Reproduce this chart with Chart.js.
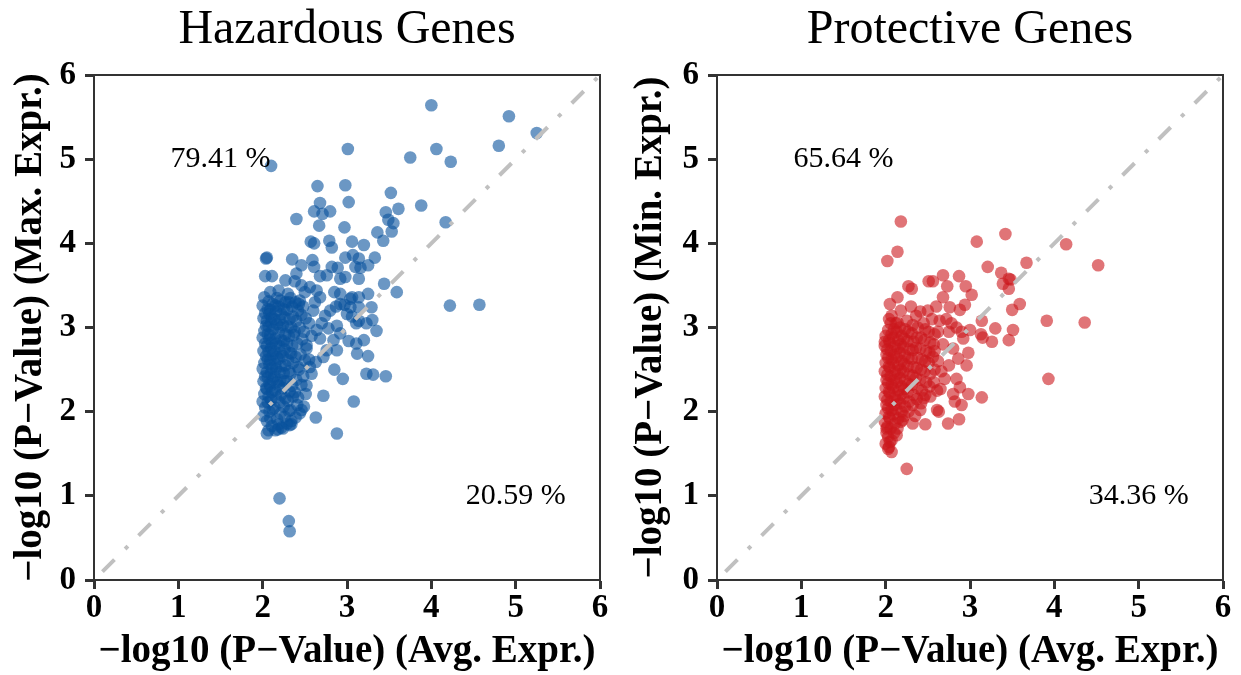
<!DOCTYPE html>
<html><head><meta charset="utf-8">
<script src="https://cdn.jsdelivr.net/npm/chart.js@4.4.1/dist/chart.umd.min.js"></script>
<style>
html,body{margin:0;padding:0;background:#fff;}
#wrap{position:relative;width:1241px;height:675px;overflow:hidden;}
canvas{position:absolute;top:0;}
</style></head><body>
<div id="wrap"><canvas id="c1" width="620" height="675" style="left:0"></canvas><canvas id="c2" width="621" height="675" style="left:620px"></canvas></div>
<script>
// ---- data (x = -log10 P (Avg. Expr.), y = -log10 P (Max./Min. Expr.)) ----
const chartTitles = ["Hazardous Genes", "Protective Genes"];
const xAxisLabel = "\u2212log10 (P\u2212Value) (Avg. Expr.)";
const yAxisLabels = ["\u2212log10 (P\u2212Value) (Max. Expr.)", "\u2212log10 (P\u2212Value) (Min. Expr.)"];
const axisRange = [0, 6];
const upperPercents = ["79.41 %", "65.64 %"];
const lowerPercents = ["20.59 %", "34.36 %"];
const diagonalLine = [[0.1, 0.1], [6.0, 6.0]];

const hazardousPoints = [
 // sparse upper points
 [4.00,5.64],[4.92,5.51],[5.25,5.31],[4.80,5.16],[4.06,5.12],[4.23,4.97],[3.75,5.02],[3.01,5.12],[2.10,4.92],
 [2.65,4.68],[2.98,4.69],[3.52,4.60],[3.02,4.49],[2.68,4.48],[3.88,4.45],[3.61,4.41],[2.61,4.38],[2.71,4.35],
 [2.80,4.38],[3.46,4.37],[3.49,4.28],[3.55,4.24],[3.53,4.14],[4.17,4.25],[2.40,4.29],[2.67,4.21],[2.97,4.19],
 [3.36,4.13],[3.43,4.03],[3.20,3.98],[3.06,4.02],[2.82,3.95],[2.79,4.03],[2.57,4.02],[2.61,4.00],[2.04,3.82],
 [2.05,3.83],[2.35,3.81],[2.59,3.80],[2.98,3.83],[3.07,3.86],[3.14,3.82],[3.33,3.83],[3.25,3.74],[3.10,3.72],
 [3.16,3.71],[2.82,3.72],[2.89,3.71],[2.46,3.74],[2.61,3.72],[2.03,3.61],[2.11,3.61],[2.27,3.56],[2.40,3.64],
 [2.38,3.55],[2.68,3.61],[2.76,3.62],[2.92,3.58],[2.98,3.60],[3.14,3.58],[3.44,3.52],[3.59,3.42],[4.22,3.26],
 [4.57,3.27],[2.09,3.42],[2.19,3.44],[2.46,3.50],[2.56,3.48],[2.64,3.44],[2.85,3.42],[2.92,3.40],[3.06,3.36],
 [3.14,3.36],[3.25,3.40],[2.44,3.32],[2.68,3.36],[3.04,3.34],[3.29,3.24],[3.14,3.24],[2.92,3.28],[2.50,3.42],
 // medium band
 [2.64,2.97],[2.78,2.99],[2.88,3.02],[2.92,2.93],[3.02,2.84],[3.14,3.08],[3.00,3.16],[3.04,3.24],[2.80,3.20],
 [2.74,3.14],[2.68,2.87],[2.76,2.73],[2.88,2.73],[2.72,2.65],[2.63,2.59],[2.85,2.50],[2.58,2.45],[2.95,2.39],
 [3.12,2.69],[3.25,2.66],[3.20,2.85],[3.35,2.96],[3.23,3.05],[3.23,2.45],[3.31,2.44],[3.46,2.42],[2.72,2.19],
 [3.08,2.12],[2.63,1.93],[2.88,1.74],[2.05,1.74],[2.18,1.79],[2.32,1.84],[2.46,2.02],[2.42,2.17],[2.52,2.31],
 [2.56,2.53],[2.33,2.02],[2.55,3.05],[2.60,3.20],[2.52,2.75],[2.58,2.90],[2.62,3.30],[2.55,2.62],[2.70,3.05],
 [2.84,2.85],[2.97,3.27],[3.06,3.13],[3.11,3.05],[3.30,3.09],[3.11,2.81],[2.87,3.25],[2.34,1.85],[2.22,1.81],
 // low outliers
 [2.20,0.97],[2.31,0.70],[2.32,0.58],
 // dense core
 [2.01,1.95],[2.03,2.05],[2.00,2.12],[2.02,2.21],[2.04,2.28],[2.01,2.36],[2.03,2.42],[2.00,2.51],[2.02,2.58],[2.04,2.66],
 [2.01,2.72],[2.03,2.81],[2.00,2.88],[2.02,2.96],[2.04,3.02],[2.01,3.11],[2.03,3.17],[2.00,3.26],[2.02,3.36],
 [2.07,1.78],[2.05,1.89],[2.08,2.00],[2.06,2.11],[2.07,2.18],[2.05,2.27],[2.08,2.33],[2.06,2.41],[2.05,2.47],[2.08,2.56],
 [2.06,2.62],[2.07,2.71],[2.05,2.78],[2.08,2.86],[2.06,2.92],[2.07,3.01],[2.05,3.08],[2.08,3.16],[2.06,3.22],[2.07,3.31],
 [2.11,1.83],[2.09,1.92],[2.12,2.03],[2.10,2.14],[2.11,2.23],[2.09,2.30],[2.12,2.38],[2.10,2.46],[2.11,2.52],[2.09,2.61],
 [2.12,2.68],[2.10,2.76],[2.11,2.82],[2.09,2.91],[2.12,2.98],[2.10,3.06],[2.11,3.12],[2.09,3.21],[2.12,3.28],
 [2.15,1.78],[2.17,1.91],[2.14,2.05],[2.16,2.17],[2.15,2.25],[2.17,2.35],[2.14,2.42],[2.16,2.51],[2.15,2.57],[2.17,2.65],
 [2.14,2.72],[2.16,2.81],[2.15,2.87],[2.17,3.04],[2.14,3.10],[2.16,3.19],[2.15,3.26],[2.17,3.35],
 [2.19,1.85],[2.21,1.98],[2.20,2.11],[2.22,2.20],[2.19,2.31],[2.21,2.38],[2.20,2.47],[2.22,2.54],[2.19,2.63],[2.21,2.70],
 [2.20,2.78],[2.22,2.85],[2.19,2.94],[2.21,3.00],[2.20,3.09],[2.22,3.16],[2.19,3.25],[2.21,3.32],
 [2.24,1.80],[2.26,1.94],[2.25,2.06],[2.27,2.16],[2.24,2.28],[2.26,2.36],[2.25,2.46],[2.27,2.55],[2.24,2.66],[2.26,2.74],
 [2.25,2.84],[2.27,2.92],[2.24,3.03],[2.26,3.12],[2.25,3.22],[2.27,3.30],
 [2.29,1.86],[2.31,2.01],[2.30,2.13],[2.32,2.24],[2.29,2.36],[2.31,2.48],[2.30,2.61],[2.32,2.70],[2.29,2.81],[2.31,2.90],
 [2.30,3.01],[2.32,3.10],[2.29,3.21],[2.31,3.30],[2.30,3.40],
 [2.34,1.89],[2.36,2.18],[2.35,2.31],[2.33,2.45],[2.36,2.58],[2.34,2.69],[2.35,2.78],[2.37,2.91],[2.34,3.00],[2.36,3.13],
 [2.35,3.25],[2.33,3.35],
 [2.39,1.93],[2.41,2.08],[2.38,2.23],[2.40,2.38],[2.42,2.53],[2.39,2.65],[2.41,2.81],[2.38,2.95],[2.40,3.08],[2.42,3.20],[2.39,3.30],
 [2.44,1.98],[2.46,2.32],[2.43,2.50],[2.45,2.68],[2.47,2.86],[2.44,3.00],[2.46,3.15],[2.43,3.28],
 [2.49,2.06],[2.51,2.21],[2.48,2.42],[2.50,2.61],[2.52,2.79],[2.49,2.95],[2.51,3.11],[2.48,3.25]
];

const protectivePoints = [
 // sparse upper / right points
 [2.18,4.26],[2.14,3.90],[2.02,3.79],[3.08,4.02],[3.42,4.11],[4.14,3.99],[4.52,3.74],[3.67,3.77],[3.21,3.72],
 [3.37,3.65],[3.46,3.58],[3.48,3.57],[3.39,3.52],[3.46,3.46],[3.59,3.28],[3.50,3.21],[3.91,3.08],[4.36,3.06],
 [3.51,2.97],[3.46,2.85],[3.30,2.99],[2.68,3.62],[2.87,3.61],[2.95,3.49],[3.02,3.39],[2.73,3.49],[2.27,3.49],
 [2.31,3.46],[2.51,3.55],[2.56,3.55],[2.68,3.36],[2.14,3.36],[2.05,3.28],[2.76,3.24],[2.60,3.25],[2.94,3.27],
 [2.88,3.21],[2.41,3.19],[2.36,3.14],[2.07,3.14],[2.25,3.08],[2.64,3.08],[2.72,3.10],[3.14,3.08],[3.00,2.97],
 [3.26,2.83],[2.92,2.87],[1.99,2.83],[3.13,2.92],[3.15,2.88],[3.93,2.39],
 // lower spread
 [2.25,1.32],[2.07,1.52],[2.03,1.56],[2.05,1.64],[2.13,1.72],[2.01,1.80],[2.32,1.86],[2.47,1.85],[2.74,1.86],
 [2.87,1.91],[2.61,2.02],[2.63,2.00],[2.90,2.08],[2.82,2.12],[3.14,2.17],[2.98,2.21],[2.80,2.21],[2.61,2.25],
 [2.65,2.27],[2.45,2.16],[2.41,2.02],[2.70,2.39],[2.84,2.39],[2.88,2.29],[2.96,2.55],[2.86,2.63],[2.98,2.70],
 [2.62,2.60],[2.58,2.72],[2.75,2.55],[2.68,2.80],[2.80,2.75],[2.90,2.95],[2.62,2.95],[2.55,3.10],[2.45,3.05],
 [2.75,2.95],[2.66,2.48],[2.53,2.18],[2.35,1.95],[2.20,1.90],[2.78,3.05],[2.84,3.00],[2.50,3.20],[2.30,3.25],
 [2.18,3.20],[2.12,3.05],[2.04,3.10],
 // dense core
 [2.00,1.62],[2.01,1.75],[1.99,1.88],[2.00,1.98],[2.01,2.08],[1.99,2.18],[2.00,2.28],[2.01,2.38],[1.99,2.48],[2.00,2.58],
 [2.01,2.68],[1.99,2.78],[2.00,2.90],
 [2.04,1.58],[2.03,1.70],[2.02,1.82],[2.04,1.94],[2.03,2.04],[2.02,2.14],[2.04,2.24],[2.03,2.34],[2.02,2.44],[2.04,2.54],
 [2.03,2.64],[2.02,2.74],[2.04,2.85],[2.03,2.97],
 [2.07,1.66],[2.06,1.80],[2.05,1.92],[2.07,2.02],[2.06,2.12],[2.05,2.22],[2.07,2.32],[2.06,2.42],[2.05,2.52],[2.07,2.62],
 [2.06,2.72],[2.05,2.82],[2.07,2.92],[2.06,3.05],
 [2.10,1.75],[2.11,1.86],[2.09,1.97],[2.10,2.08],[2.11,2.18],[2.09,2.28],[2.10,2.38],[2.11,2.48],[2.09,2.58],[2.10,2.68],
 [2.11,2.78],[2.09,2.88],[2.10,2.98],
 [2.14,1.80],[2.15,1.92],[2.13,2.03],[2.14,2.14],[2.15,2.25],[2.13,2.35],[2.14,2.45],[2.15,2.55],[2.13,2.65],[2.14,2.75],
 [2.15,2.85],[2.13,2.95],[2.14,3.06],
 [2.18,1.88],[2.19,2.00],[2.17,2.10],[2.18,2.20],[2.19,2.30],[2.17,2.40],[2.18,2.50],[2.19,2.60],[2.17,2.70],[2.18,2.80],
 [2.19,2.90],[2.17,3.00],
 [2.22,1.95],[2.23,2.06],[2.21,2.16],[2.22,2.27],[2.23,2.37],[2.21,2.47],[2.22,2.57],[2.23,2.67],[2.21,2.77],[2.22,2.87],[2.23,2.98],
 [2.27,2.00],[2.28,2.12],[2.26,2.23],[2.27,2.33],[2.28,2.44],[2.26,2.54],[2.27,2.64],[2.28,2.74],[2.26,2.84],[2.27,2.95],
 [2.32,2.08],[2.33,2.20],[2.31,2.32],[2.32,2.43],[2.33,2.53],[2.31,2.63],[2.32,2.73],[2.33,2.83],[2.31,2.93],[2.32,3.03],
 [2.37,2.15],[2.38,2.28],[2.36,2.40],[2.37,2.52],[2.38,2.64],[2.36,2.76],[2.37,2.88],[2.38,3.00],
 [2.42,2.10],[2.43,2.25],[2.41,2.38],[2.42,2.50],[2.43,2.62],[2.41,2.75],[2.42,2.88],
 [2.47,2.20],[2.48,2.35],[2.46,2.48],[2.47,2.60],[2.48,2.72],[2.46,2.85],[2.47,2.98],
 [2.52,2.30],[2.53,2.45],[2.51,2.58],[2.52,2.70],[2.53,2.82],[2.51,2.95],
 [2.57,2.35],[2.58,2.50],[2.56,2.65],[2.57,2.80],[2.58,2.92]
];

const seriesColors = ["rgba(8,81,156,0.6)", "rgba(203,24,29,0.6)"];

// ---- drawing ----
const SERIF = "'Liberation Serif', 'Times New Roman', serif";
const FRAME = "#333333";

const framePlugin = {
  id: 'frameAndText',
  afterDraw(chart, args, opts) {
    const {ctx, chartArea: a, scales} = chart;
    ctx.save();
    ctx.strokeStyle = FRAME;
    ctx.lineWidth = 2;
    ctx.beginPath();
    ctx.moveTo(a.left, a.top); ctx.lineTo(a.right, a.top); ctx.lineTo(a.right, a.bottom);
    ctx.stroke();
    ctx.fillStyle = '#000';
    ctx.font = "30px " + SERIF;
    ctx.textAlign = 'center';
    ctx.textBaseline = 'middle';
    ctx.fillText(opts.upper, scales.x.getPixelForValue(1.5), scales.y.getPixelForValue(5));
    ctx.fillText(opts.lower, scales.x.getPixelForValue(5), scales.y.getPixelForValue(1));
    ctx.restore();
  }
};

function makeChart(id, idx, points, yAxisWidth, padRight) {
  const tickFont = {family: SERIF, size: 33, weight: 'bold'};
  const labelFont = {family: SERIF, size: 39, weight: 'bold'};
  return new Chart(document.getElementById(id), {
    data: {
      datasets: [
        {
          type: 'line',
          data: diagonalLine.map(p => ({x: p[0], y: p[1]})),
          borderColor: '#c0c0c0',
          borderWidth: 4,
          borderDash: [17, 15, 4, 15],
          pointRadius: 0,
          fill: false,
          order: 0
        },
        {
          type: 'scatter',
          data: points.map(p => ({x: p[0], y: p[1]})),
          backgroundColor: seriesColors[idx],
          borderWidth: 0,
          pointRadius: 6.3,
          pointHoverRadius: 6.3,
          order: 1
        }
      ]
    },
    options: {
      responsive: false,
      animation: false,
      events: [],
      layout: {padding: {left: 0, right: padRight, top: 0, bottom: 0}},
      scales: {
        x: {
          type: 'linear', min: axisRange[0], max: axisRange[1],
          ticks: {stepSize: 1, font: tickFont, color: '#000', padding: 0, maxRotation: 0},
          grid: {drawOnChartArea: false, drawTicks: true, tickLength: 9, tickWidth: 3, tickColor: FRAME},
          border: {display: true, color: FRAME, width: 2},
          title: {display: true, text: xAxisLabel, font: labelFont, color: '#000', padding: {top: 0, bottom: 0}},
          afterFit: s => { s.height = 95; }
        },
        y: {
          type: 'linear', min: axisRange[0], max: axisRange[1],
          ticks: {stepSize: 1, font: tickFont, color: '#000', padding: 9},
          grid: {drawOnChartArea: false, drawTicks: true, tickLength: 9, tickWidth: 3, tickColor: FRAME},
          border: {display: true, color: FRAME, width: 2},
          title: {display: true, text: yAxisLabels[idx], font: labelFont, color: '#000', padding: {top: 8, bottom: 0}},
          afterFit: s => { s.width = yAxisWidth; }
        }
      },
      plugins: {
        legend: {display: false},
        tooltip: {enabled: false},
        title: {
          display: true, text: chartTitles[idx], fullSize: false,
          font: {family: SERIF, size: 48, weight: 'normal'}, color: '#000',
          padding: {top: 2, bottom: 15.4}
        },
        frameAndText: {upper: upperPercents[idx], lower: lowerPercents[idx]}
      }
    },
    plugins: [framePlugin]
  });
}

makeChart('c1', 0, hazardousPoints, 94, 20);
makeChart('c2', 1, protectivePoints, 97, 18);
</script>
</body></html>
